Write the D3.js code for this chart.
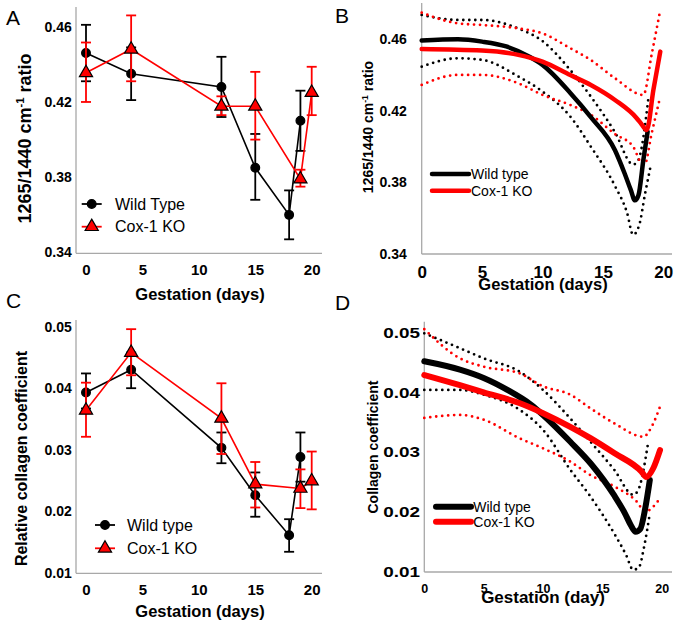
<!DOCTYPE html>
<html>
<head>
<meta charset="utf-8">
<script src="https://cdn.jsdelivr.net/npm/d3@7"></script>
<style>
  body { margin: 0; background: #fff; }
  svg { font-family: "Liberation Sans", Arial, sans-serif; }
</style>
</head>
<body>
<svg width="675" height="623"></svg>
<script>
var svg = d3.select("svg");

// ---- data ----
var dayTicks = [0, 5, 10, 15, 20];
var ratioTicks = [0.34, 0.38, 0.42, 0.46];
var collTicks = [0.01, 0.02, 0.03, 0.04, 0.05];

// panel A: 1265/1440 ratio, measured
var wtDays = [0, 4, 12, 15, 18, 19];
var koDays = [0, 4, 12, 15, 19, 20];
var ratioWT   = [0.446, 0.435, 0.428, 0.385, 0.360, 0.410];
var ratioWTlo = [0.431, 0.421, 0.412, 0.368, 0.347, 0.394];
var ratioWThi = [0.461, 0.449, 0.444, 0.403, 0.373, 0.426];
var ratioKO   = [0.4355, 0.448, 0.4177, 0.4177, 0.379, 0.425];
var ratioKOlo = [0.420, 0.431, 0.413, 0.400, 0.375, 0.413];
var ratioKOhi = [0.4516, 0.466, 0.423, 0.436, 0.384, 0.4387];

// panel C: relative collagen coefficient, measured
var collWT   = [0.0393, 0.0430, 0.0303, 0.0226, 0.0161, 0.0288];
var collWTlo = [0.0367, 0.0400, 0.0278, 0.0191, 0.0134, 0.0248];
var collWThi = [0.0424, 0.0458, 0.0328, 0.0263, 0.0187, 0.0328];
var collKO   = [0.0364, 0.0458, 0.0351, 0.0244, 0.0237, 0.0249];
var collKOlo = [0.0321, 0.0421, 0.0293, 0.0206, 0.0205, 0.0203];
var collKOhi = [0.0409, 0.0496, 0.0408, 0.0280, 0.0268, 0.0297];

// panel B: fitted ratio curves [day, value]
var fitRatioWT = [[0,0.4593],[3,0.460],[5,0.4587],[7,0.456],[9,0.450],[10,0.4457],[12.3,0.430],[14,0.4165],
  [16,0.398],[16.8,0.385],[17.3,0.376],[17.65,0.370],[17.95,0.373],[18.35,0.3926],[18.7,0.4084]];
var fitRatioWThi = [[0,0.4736],[3,0.4708],[5,0.4708],[8,0.466],[10,0.459],[12.3,0.4428],[14,0.428],[16,0.408],
  [17.5,0.390],[17.9,0.392],[18.8,0.429]];
var fitRatioWTlo = [[0,0.4447],[3,0.4494],[5,0.4485],[8,0.4392],[10,0.4308],[12.3,0.4168],[14,0.400],[16,0.378],
  [17,0.363],[17.5,0.3507],[18.0,0.356],[18.5,0.374],[19.0,0.3907]];
var fitRatioKO = [[0,0.4546],[5,0.4537],[8,0.4513],[10,0.4475],[12.3,0.440],[14,0.4345],[16,0.4261],[17.8,0.4159],
  [18.2,0.4125],[18.63,0.4093],[19.18,0.4317],[19.75,0.4531]];
var fitRatioKOhi = [[0,0.4749],[3,0.4689],[5,0.468],[8,0.4661],[10,0.4633],[12.3,0.455],[14,0.4484],[16,0.4382],
  [18.35,0.4289],[19.05,0.452],[19.75,0.4764]];
var fitRatioKOlo = [[0,0.4345],[3,0.4401],[5,0.4401],[8,0.4354],[10,0.4289],[12.3,0.4233],[14,0.4178],[16,0.407],
  [17.5,0.400],[18.2,0.3907],[18.45,0.390],[19.04,0.4075],[19.75,0.428]];

// panel D: fitted collagen curves [day, value]
var fitCollWT = [[0,0.0453],[3,0.0439],[5,0.0425],[7,0.0405],[9,0.038],[10,0.0363],[12.3,0.0318],[14,0.0282],
  [16,0.0228],[16.9,0.0198],[17.4,0.0178],[17.8,0.0167],[18.2,0.0172],[18.6,0.0205],[19.0,0.0254]];
var fitCollWThi = [[0,0.050],[3,0.0475],[5,0.0458],[8,0.0436],[10,0.0405],[12.3,0.0357],[14,0.0318],[16,0.0271],
  [17.6,0.0229],[18.0,0.0236],[18.87,0.0318]];
var fitCollWTlo = [[0,0.0405],[3,0.0405],[5,0.0397],[8,0.0372],[10,0.0338],[12.3,0.0271],[14,0.0226],[16,0.0164],
  [17,0.0128],[17.6,0.0103],[18.1,0.0108],[18.5,0.0140],[19.0,0.0198]];
var fitCollKO = [[0,0.043],[3,0.0413],[5,0.0401],[8,0.0383],[10,0.0366],[12.3,0.0343],[14,0.0324],[16,0.0299],
  [18.3,0.0268],[18.7,0.0259],[19.3,0.0274],[19.86,0.0304]];
var fitCollKOhi = [[0,0.0507],[3,0.0458],[5,0.0444],[8,0.0433],[10,0.0411],[12.3,0.0397],[14,0.0374],[16,0.0349],
  [18.45,0.03265],[19.2,0.0345],[19.86,0.0377]];
var fitCollKOlo = [[0,0.0358],[3,0.0363],[5,0.0355],[8,0.0324],[10,0.0307],[12.3,0.02846],[14,0.0262],[16,0.0243],
  [17.9,0.02175],[18.6,0.0201],[19.86,0.0223]];

var RED = "#ff0000", BLACK = "#000", AXIS = "#a8a8a8";

// ---- panel frames (pixel layout) ----
var panels = {
  A: { x0: 86, x20: 311.7, yDom: [0.34, 0.46], yRange: [252.5, 26.7], ax: 76, axTop: 7, axBot: 253.3, axRight: 322,
       yPad: 4.3, xPad: 11, yFont: 14, xFont: 15, ySx: 1 },
  B: { x0: 421.7, x20: 663.3, yDom: [0.34, 0.46], yRange: [254, 39.3], ax: 421.7, axTop: 3, axBot: 254, axRight: 672,
       yPad: 15, xPad: 11.6, yFont: 14, xFont: 17, ySx: 1 },
  C: { x0: 86, x20: 311.7, yDom: [0.01, 0.05], yRange: [572.7, 326.7], ax: 76, axTop: 320, axBot: 573.3, axRight: 322,
       yPad: 4.3, xPad: 11.3, yFont: 14, xFont: 15, ySx: 1 },
  D: { x0: 424.3, x20: 661.7, yDom: [0.01, 0.05], yRange: [571.7, 333.3], ax: 424.3, axTop: 321.7, axBot: 572, axRight: 672,
       yPad: 4.3, xPad: 12.5, yFont: 14, xFont: 12.5, ySx: 1.35 }
};

function scales(p) {
  return {
    x: d3.scaleLinear().domain([0, 20]).range([p.x0, p.x20]),
    y: d3.scaleLinear().domain(p.yDom).range(p.yRange)
  };
}

function drawAxes(p, s, yTicks) {
  var g = svg.append("g");
  g.append("line").attr("x1", p.ax).attr("x2", p.ax).attr("y1", p.axTop).attr("y2", p.axBot)
    .attr("stroke", AXIS).attr("stroke-width", 1.3);
  g.append("line").attr("x1", p.ax).attr("x2", p.axRight).attr("y1", p.axBot).attr("y2", p.axBot)
    .attr("stroke", AXIS).attr("stroke-width", 1.3);

  var ya = g.append("g").attr("transform", "translate(" + p.ax + ",0)")
    .call(d3.axisLeft(s.y).tickValues(yTicks).tickSize(0).tickPadding(p.yPad).tickFormat(d3.format(".2f")));
  ya.select(".domain").remove();
  ya.attr("font-family", null).attr("font-size", p.yFont).attr("font-weight", "bold");
  if (p.ySx !== 1) {
    ya.selectAll("text").attr("x", -p.yPad / p.ySx).attr("transform", "scale(" + p.ySx + ",1)");
  }

  var xa = g.append("g").attr("transform", "translate(0," + p.axBot + ")")
    .call(d3.axisBottom(s.x).tickValues(dayTicks).tickSize(0).tickPadding(p.xPad));
  xa.select(".domain").remove();
  xa.attr("font-family", null).attr("font-size", p.xFont).attr("font-weight", "bold");
}

function title(txt, x, y, size, rotate) {
  var t = svg.append("text")
    .attr("transform", "translate(" + x + "," + y + ")" + (rotate ? " rotate(-90)" : ""))
    .attr("text-anchor", "middle").attr("font-weight", "bold").attr("font-size", size);
  if (Array.isArray(txt)) {
    t.append("tspan").text(txt[0]);
    t.append("tspan").attr("font-size", size * 0.62).attr("dy", -size * 0.38).text(txt[1]);
    t.append("tspan").attr("dy", size * 0.38).text(txt[2]);
  } else {
    t.text(txt);
  }
}

function letter(txt, x, y) {
  svg.append("text").attr("x", x).attr("y", y).attr("font-size", 21).text(txt);
}

// measured series with error bars
function measured(s, days, mean, lo, hi, color, shape) {
  var g = svg.append("g");
  var pts = days.map(function(d, i) { return { d: d, m: mean[i], lo: lo[i], hi: hi[i] }; });

  var eb = g.selectAll(".eb").data(pts).enter().append("g")
    .attr("stroke", color).attr("stroke-width", 1.8);
  eb.append("line")
    .attr("x1", function(d) { return s.x(d.d); }).attr("x2", function(d) { return s.x(d.d); })
    .attr("y1", function(d) { return s.y(d.lo); }).attr("y2", function(d) { return s.y(d.hi); });
  eb.append("line")
    .attr("x1", function(d) { return s.x(d.d) - 5; }).attr("x2", function(d) { return s.x(d.d) + 5; })
    .attr("y1", function(d) { return s.y(d.lo); }).attr("y2", function(d) { return s.y(d.lo); });
  eb.append("line")
    .attr("x1", function(d) { return s.x(d.d) - 5; }).attr("x2", function(d) { return s.x(d.d) + 5; })
    .attr("y1", function(d) { return s.y(d.hi); }).attr("y2", function(d) { return s.y(d.hi); });

  g.append("path").datum(pts)
    .attr("fill", "none").attr("stroke", color).attr("stroke-width", 1.6)
    .attr("d", d3.line().x(function(d) { return s.x(d.d); }).y(function(d) { return s.y(d.m); }));

  g.selectAll(".mk").data(pts).enter().append("path")
    .attr("transform", function(d) { return "translate(" + s.x(d.d) + "," + s.y(d.m) + ")"; })
    .attr("d", marker(shape))
    .attr("fill", shape === "circle" ? BLACK : RED)
    .attr("stroke", BLACK).attr("stroke-width", 1.2);
}

function marker(shape) {
  return shape === "circle"
    ? d3.symbol(d3.symbolCircle).size(60)()
    : d3.symbol(d3.symbolTriangle).size(75)();
}

function legendMarked(x1, x2, y, label, color, shape, tx, size) {
  svg.append("line").attr("x1", x1).attr("x2", x2).attr("y1", y).attr("y2", y)
    .attr("stroke", color).attr("stroke-width", 1.8);
  svg.append("path").attr("transform", "translate(" + ((x1 + x2) / 2) + "," + y + ")")
    .attr("d", marker(shape))
    .attr("fill", shape === "circle" ? BLACK : RED).attr("stroke", BLACK).attr("stroke-width", 1.2);
  svg.append("text").attr("x", tx).attr("y", y).attr("dy", "0.35em").attr("font-size", size).text(label);
}

// fitted curves with dotted bands
function fitted(s, mean, hi, lo, color, width) {
  var line = d3.line().curve(d3.curveMonotoneX)
    .x(function(d) { return s.x(d[0]); }).y(function(d) { return s.y(d[1]); });
  [hi, lo].forEach(function(band) {
    svg.append("path").datum(band).attr("d", line)
      .attr("fill", "none").attr("stroke", color).attr("stroke-width", 2.8)
      .attr("stroke-linecap", "round").attr("stroke-dasharray", "0,6");
  });
  return function() {
    svg.append("path").datum(mean).attr("d", line)
      .attr("fill", "none").attr("stroke", color).attr("stroke-width", width)
      .attr("stroke-linecap", "round").attr("stroke-linejoin", "round");
  };
}

function legendLine(x1, x2, y, label, color, width, tx) {
  svg.append("line").attr("x1", x1).attr("x2", x2).attr("y1", y).attr("y2", y)
    .attr("stroke", color).attr("stroke-width", width).attr("stroke-linecap", "round");
  svg.append("text").attr("x", tx).attr("y", y).attr("dy", "0.35em").attr("font-size", 14).text(label);
}

// ---- panel A ----
var sA = scales(panels.A);
drawAxes(panels.A, sA, ratioTicks);
measured(sA, wtDays, ratioWT, ratioWTlo, ratioWThi, BLACK, "circle");
measured(sA, koDays, ratioKO, ratioKOlo, ratioKOhi, RED, "triangle");
title(["1265/1440 cm", "-1", " ratio"], 31, 138.5, 18, true);
title("Gestation (days)", 200, 300, 16.5);
legendMarked(81.7, 101.7, 204, "Wild Type", BLACK, "circle", 115, 16);
legendMarked(81.7, 101.7, 226.7, "Cox-1 KO", RED, "triangle", 115, 16);
letter("A", 6, 25);

// ---- panel B ----
var sB = scales(panels.B);
drawAxes(panels.B, sB, ratioTicks);
var wtB = fitted(sB, fitRatioWT, fitRatioWThi, fitRatioWTlo, BLACK, 4.5);
var koB = fitted(sB, fitRatioKO, fitRatioKOhi, fitRatioKOlo, RED, 4.5);
wtB(); koB();
title(["1265/1440 cm", "-1", " ratio"], 373, 127, 14, true);
title("Gestation (days)", 543, 290, 16.5);
legendLine(432, 469, 174, "Wild type", BLACK, 4.5, 471);
legendLine(432, 469, 190.7, "Cox-1 KO", RED, 4.5, 471);
letter("B", 335, 23);

// ---- panel C ----
var sC = scales(panels.C);
drawAxes(panels.C, sC, collTicks);
measured(sC, wtDays, collWT, collWTlo, collWThi, BLACK, "circle");
measured(sC, koDays, collKO, collKOlo, collKOhi, RED, "triangle");
title("Relative collagen coefficient", 27, 458.5, 16, true);
title("Gestation (days)", 200, 617, 16.5);
legendMarked(95, 115, 525, "Wild type", BLACK, "circle", 127, 16);
legendMarked(95, 115, 548.3, "Cox-1 KO", RED, "triangle", 127, 16);
letter("C", 6, 308);

// ---- panel D ----
var sD = scales(panels.D);
drawAxes(panels.D, sD, collTicks);
var wtD = fitted(sD, fitCollWT, fitCollWThi, fitCollWTlo, BLACK, 6);
var koD = fitted(sD, fitCollKO, fitCollKOhi, fitCollKOlo, RED, 6);
wtD(); koD();
title("Collagen coefficient", 378, 447, 14, true);
title("Gestation (day)", 543, 603, 17);
legendLine(436, 471, 506.7, "Wild type", BLACK, 6, 473.3);
legendLine(436, 471, 521.7, "Cox-1 KO", RED, 6, 473.3);
letter("D", 335, 310);
</script>
</body>
</html>
